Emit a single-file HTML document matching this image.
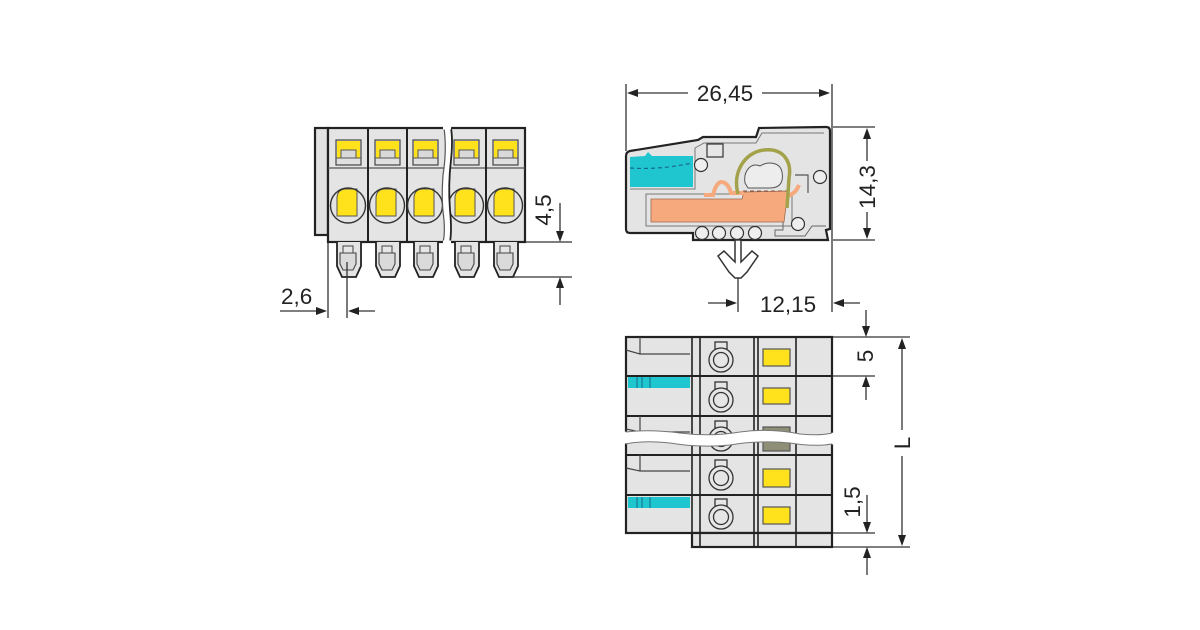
<!DOCTYPE html>
<html>
<head>
<meta charset="utf-8">
<style>
html,body{margin:0;padding:0;background:#fff;}
svg{display:block;}
text{font-family:"Liberation Sans",sans-serif;fill:#222;font-size:22.5px;}
</style>
</head>
<body>
<svg width="1200" height="630" viewBox="0 0 1200 630" xmlns="http://www.w3.org/2000/svg">
<rect width="1200" height="630" fill="#fff"/>

<!-- ================= LEFT (FRONT) VIEW ================= -->
<g id="front">
  <rect x="315" y="128" width="13" height="107" fill="#e2e2e2" stroke="#222" stroke-width="2.2"/>
  <rect x="328" y="128" width="197" height="114" fill="#e4e4e4" stroke="#222" stroke-width="2.2"/>
  <line x1="328" y1="168" x2="525" y2="168" stroke="#555" stroke-width="1.3"/>
  <g stroke="#222" stroke-width="2">
    <line x1="368" y1="128" x2="368" y2="242"/>
    <line x1="407" y1="128" x2="407" y2="242"/>
    <line x1="486" y1="128" x2="486" y2="242"/>
  </g>

  <!-- columns -->
  <g id="col">
    <rect x="336" y="140" width="25" height="25" fill="#e0e0e0" stroke="#444" stroke-width="1.2"/>
    <path d="M337,141 h23 v17 h-4 v-8 h-15 v8 h-4 z" fill="#ffe21c"/>
    <rect x="341" y="150" width="15" height="8" fill="#d9d9d9" stroke="#555" stroke-width="1"/>
    <line x1="336" y1="158" x2="361" y2="158" stroke="#555" stroke-width="1"/>
    <path d="M337,197 Q338,189 346,189 L357,189 L357,216 L337,216 Z" fill="#ffe21c" stroke="#555" stroke-width="1"/>
    <circle cx="348" cy="205.5" r="17.5" fill="none" stroke="#333" stroke-width="1.4"/>
    <path d="M337,242 L337,266 L342,277 L356,277 L361,266 L361,242" fill="#e4e4e4" stroke="#222" stroke-width="1.8"/>
    <rect x="343" y="246" width="10" height="7" fill="#e6e6e6" stroke="#444" stroke-width="1"/>
    <path d="M340,253 h16 v11 l-3,6 h-10 l-3,-6 z" fill="#dadada" stroke="#444" stroke-width="1.1"/>
  </g>
  <use href="#col" transform="translate(39,0)"/>
  <use href="#col" transform="translate(77,0)"/>
  <use href="#col" transform="translate(118,0)"/>
  <use href="#col" transform="translate(157,0)"/>

  <!-- break -->
  <path d="M444,126 Q447,150 443,175 Q441,200 444,220 Q445,235 443,244 L450,244 Q452,230 450,210 Q448,185 451,160 Q453,140 451,126 Z" fill="#fff"/>
  <path d="M444,128 Q447,150 443,175 Q441,200 444,220 Q445,235 443,242" fill="none" stroke="#555" stroke-width="1.2"/>
  <path d="M451,128 Q453,140 451,160 Q448,185 450,210 Q452,230 450,242" fill="none" stroke="#222" stroke-width="1.8"/>
  <line x1="443" y1="128" x2="451" y2="128" stroke="#fff" stroke-width="3"/>
  <line x1="443" y1="242" x2="451" y2="242" stroke="#fff" stroke-width="3"/>
</g>

<!-- front view dimensions -->
<g stroke="#333" stroke-width="1.3" fill="none">
  <line x1="526" y1="242" x2="572" y2="242"/>
  <line x1="505" y1="277" x2="572" y2="277"/>
  <line x1="560" y1="203" x2="560" y2="236"/>
  <line x1="560" y1="284" x2="560" y2="305"/>
  <line x1="328" y1="243" x2="328" y2="318"/>
  <line x1="347" y1="262" x2="347" y2="318"/>
  <line x1="280" y1="311" x2="318" y2="311"/>
  <line x1="357" y1="311" x2="375" y2="311"/>
</g>
<g fill="#222">
  <polygon points="560,242 556,231 564,231"/>
  <polygon points="560,277 556,288 564,288"/>
  <polygon points="327,311 316,307 316,315"/>
  <polygon points="348,311 359,307 359,315"/>
</g>
<text x="281" y="304">2,6</text>
<text transform="translate(551,210) rotate(-90)" text-anchor="middle">4,5</text>

<!-- ================= SIDE VIEW ================= -->
<g id="side">
  <path d="M626,156 Q626,152 630,151 L698,140 L703,137 L756,137 L759,128 L826,127 Q830,127 830,131 L830,229 L826,230 L828,240 L693,240 L693,233 L630,233 Q626,233 626,229 Z" fill="#e4e4e4" stroke="#222" stroke-width="2.2"/>
  <path d="M630,189 L695,189 L695,148 L704,143 L756,143 L762,133 L824,133" fill="none" stroke="#777" stroke-width="1"/>
  <!-- cyan -->
  <path d="M630,157 L645,156 L648,152 L652,156 L693,156 L693,187 L630,187 Z" fill="#1fc6cf"/>
  <path d="M630,168 Q660,170 692,163" fill="none" stroke="#1a6a8a" stroke-width="1.2" stroke-dasharray="4,3"/>
  <circle cx="701" cy="165" r="6.5" fill="#eee" stroke="#333" stroke-width="1.2"/>
  <rect x="707" y="144" width="16" height="13" fill="#e6e6e6" stroke="#333" stroke-width="1.2"/>
  <!-- salmon -->
  <rect x="646" y="194" width="146" height="32" fill="none" stroke="#777" stroke-width="1"/>
  <path d="M651,199 L742,199 L744,192 L788,191 L784,222 L651,222 Z" fill="#f6a97c" stroke="#9a6a50" stroke-width="0.8"/>
  <path d="M704,195 L713,195 Q716,183 721,182 Q728,182 731,193 L744,193" fill="none" stroke="#f6a97c" stroke-width="4"/>
  <path d="M743,191 L787,191" fill="none" stroke="#8a5040" stroke-width="1" stroke-dasharray="4,3"/>
  <path d="M786,196 Q795,195 799,185" fill="none" stroke="#f6a97c" stroke-width="4"/>
  <!-- olive spring -->
  <path d="M738,194 C732,172 745,152 764,150 C784,148 792,162 789,178 L787,208" fill="none" stroke="#a3a24a" stroke-width="3.5"/>
  <path d="M745,183 C743,170 752,162 760,166 C768,161 780,162 782,172 C784,183 779,188 770,188 L748,188 Z" fill="#ededed" stroke="#555" stroke-width="1"/>
  <path d="M795,175 L808,175 L808,193" fill="none" stroke="#555" stroke-width="1.2"/>
  <circle cx="820" cy="177" r="6.5" fill="#eee" stroke="#333" stroke-width="1.2"/>
  <circle cx="798" cy="224" r="6.5" fill="#eee" stroke="#333" stroke-width="1.2"/>
  <path d="M783,222 L783,230 L775,230 L775,236 L805,236 L812,226 L826,226" fill="none" stroke="#666" stroke-width="1"/>
  <g fill="#eee" stroke="#333" stroke-width="1.2">
    <circle cx="702" cy="233" r="6.5"/>
    <circle cx="719" cy="233" r="6.5"/>
    <circle cx="737" cy="233" r="6.5"/>
    <circle cx="755" cy="233" r="6.5"/>
  </g>
  <!-- peg -->
  <path d="M735,240 L735,262 L724,251 L718,256 L729,272 L735,278 L741,278 L747,272 L758,256 L752,251 L741,262 L741,240 Z" fill="#fff" stroke="#333" stroke-width="1.5"/>
</g>

<!-- side dims -->
<g stroke="#333" stroke-width="1.3" fill="none">
  <line x1="626" y1="84" x2="626" y2="151"/>
  <line x1="832" y1="84" x2="832" y2="312"/>
  <line x1="636" y1="93" x2="688" y2="93"/>
  <line x1="762" y1="93" x2="820" y2="93"/>
  <line x1="833" y1="127" x2="875" y2="127"/>
  <line x1="833" y1="240" x2="875" y2="240"/>
  <line x1="867" y1="137" x2="867" y2="161"/>
  <line x1="867" y1="212" x2="867" y2="230"/>
  <line x1="738" y1="278" x2="738" y2="312"/>
  <line x1="708" y1="303" x2="727" y2="303"/>
  <line x1="843" y1="303" x2="860" y2="303"/>
</g>
<g fill="#222">
  <polygon points="627,93 638,89 638,97"/>
  <polygon points="830,93 819,89 819,97"/>
  <polygon points="867,128 863,139 871,139"/>
  <polygon points="867,239 863,228 871,228"/>
  <polygon points="737,303 726,299 726,307"/>
  <polygon points="833,303 844,299 844,307"/>
</g>
<text x="725" y="101" text-anchor="middle">26,45</text>
<text transform="translate(875,187) rotate(-90)" text-anchor="middle">14,3</text>
<text x="788" y="312" text-anchor="middle">12,15</text>

<!-- ================= BOTTOM VIEW ================= -->
<g id="bottom">
  <rect x="626" y="337" width="206" height="196" fill="#e4e4e4" stroke="#222" stroke-width="2.2"/>
  <rect x="692" y="533" width="140" height="14" fill="#e4e4e4" stroke="#222" stroke-width="2.2"/>
  <g stroke="#222" stroke-width="1.6">
    <line x1="692" y1="337" x2="692" y2="547"/>
    <line x1="700" y1="337" x2="700" y2="547"/>
    <line x1="754" y1="337" x2="754" y2="547"/>
    <line x1="758" y1="337" x2="758" y2="547"/>
    <line x1="796" y1="337" x2="796" y2="547"/>
    <line x1="626" y1="376" x2="832" y2="376" stroke-width="2"/>
    <line x1="626" y1="416" x2="832" y2="416" stroke-width="2"/>
    <line x1="626" y1="455" x2="832" y2="455" stroke-width="2"/>
    <line x1="626" y1="495" x2="832" y2="495" stroke-width="2"/>
  </g>
  <!-- left details -->
  <g stroke="#444" stroke-width="1.2" fill="none">
    <path d="M626,350 L640,354 L690,354 M640,337 L640,354"/>
    <path d="M626,429 L640,432 L690,432 M640,416 L640,432"/>
    <path d="M626,468 L640,471 L690,471 M640,455 L640,471"/>
  </g>
  <g>
    <rect x="628" y="377" width="62" height="11" fill="#1fc6cf"/>
    <path d="M637,377 v11 M642,377 v11 M650,377 v11" stroke="#1a6a8a" stroke-width="1"/>
    <rect x="628" y="497" width="62" height="11" fill="#1fc6cf"/>
    <path d="M637,497 v11 M642,497 v11 M650,497 v11" stroke="#1a6a8a" stroke-width="1"/>
  </g>
  <!-- lock icons -->
  <g id="lock" fill="#e6e6e6" stroke="#333" stroke-width="1.3">
    <rect x="715" y="342" width="12" height="8"/>
    <circle cx="721" cy="360" r="12"/>
    <circle cx="721" cy="360" r="7.5"/>
  </g>
  <use href="#lock" transform="translate(0,40)"/>
  <use href="#lock" transform="translate(0,79)"/>
  <use href="#lock" transform="translate(0,118)"/>
  <use href="#lock" transform="translate(0,157)"/>
  <!-- yellow rects -->
  <g stroke="#555" stroke-width="1.2">
    <rect x="763" y="349" width="27" height="17" fill="#ffe21c"/>
    <rect x="763" y="388" width="27" height="16" fill="#ffe21c"/>
    <rect x="763" y="427" width="27" height="24" fill="#8f8f78"/>
    <rect x="763" y="469" width="27" height="18" fill="#ffe21c"/>
    <rect x="763" y="507" width="27" height="17" fill="#ffe21c"/>
  </g>
  <!-- break -->
  <path d="M622,432 Q650,429 680,433 Q710,437 740,432 Q770,428 800,434 Q820,436 836,432 L836,444 Q815,447 790,443 Q760,440 730,445 Q700,448 670,443 Q645,440 622,444 Z" fill="#fff"/>
  <path d="M626,432 Q650,429 680,433 Q710,437 740,432 Q770,428 800,434 Q820,436 832,433" fill="none" stroke="#777" stroke-width="1"/>
  <path d="M832,444 Q815,447 790,443 Q760,440 730,445 Q700,448 670,443 Q645,440 626,444" fill="none" stroke="#777" stroke-width="1"/>
</g>

<!-- bottom dims -->
<g stroke="#333" stroke-width="1.3" fill="none">
  <line x1="833" y1="337" x2="910" y2="337"/>
  <line x1="833" y1="376" x2="875" y2="376"/>
  <line x1="833" y1="533" x2="875" y2="533"/>
  <line x1="833" y1="547" x2="910" y2="547"/>
  <line x1="866" y1="310" x2="866" y2="327"/>
  <line x1="866" y1="386" x2="866" y2="400"/>
  <line x1="902" y1="348" x2="902" y2="430"/>
  <line x1="902" y1="456" x2="902" y2="536"/>
  <line x1="867" y1="495" x2="867" y2="523"/>
  <line x1="867" y1="557" x2="867" y2="575"/>
</g>
<g fill="#222">
  <polygon points="866,337 862,326 870,326"/>
  <polygon points="866,376 862,387 870,387"/>
  <polygon points="902,338 898,349 906,349"/>
  <polygon points="902,546 898,535 906,535"/>
  <polygon points="867,533 863,522 871,522"/>
  <polygon points="867,547 863,558 871,558"/>
</g>
<text transform="translate(873,356) rotate(-90)" text-anchor="middle">5</text>
<text transform="translate(910,443) rotate(-90)" text-anchor="middle">L</text>
<text transform="translate(860,502) rotate(-90)" text-anchor="middle">1,5</text>
</svg>
</body>
</html>
